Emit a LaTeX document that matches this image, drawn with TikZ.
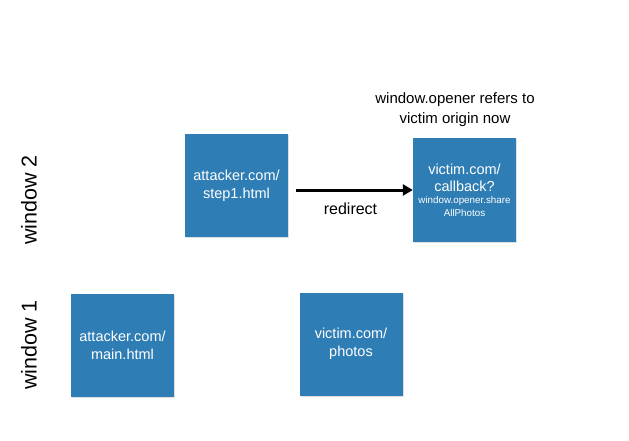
\documentclass[tikz,border=0pt]{standalone}
\usepackage{fontspec}
\setmainfont{Liberation Sans}
\usepackage{tikz}
\usetikzlibrary{arrows.meta,shadows}

\begin{document}
\begin{tikzpicture}[x=1pt,y=-1pt]
    \definecolor{pageblue}{RGB}{46,125,180}
    \useasboundingbox (0,0) rectangle (629,441);

    \tikzstyle{page}=[rectangle,fill=pageblue,text=white,minimum size=103pt,inner sep=0pt,
        align=center,font=\fontsize{14.5}{18}\selectfont,
        drop shadow={opacity=0.25,shadow xshift=1pt,shadow yshift=-1pt}]  % 页面方块
    \tikzstyle{win}=[rotate=90,font=\fontsize{21.5}{24}\selectfont]  % 窗口标签
    \newcommand{\smalljs}{\fontsize{9.8}{12}\selectfont}

    % 窗口标签
    \node[win](w2) at (29,200){window 2};
    \node[win](w1) at (29,345){window 1};

    % 页面
    \node[page](main) at (122.5,345.5){attacker.com/\\main.html};
    \node[page](photos) at (351,344){victim.com/\\photos};
    \node[page](step1) at (236.5,185.5){attacker.com/\\step1.html};
    \node[page](callback) at (464.5,190){\raisebox{-3pt}{\parbox{100pt}{\centering victim.com/\\[-1pt]callback?\\[-6pt]{\smalljs window.opener.share}\\[-5pt]{\smalljs AllPhotos}}}};

    % 注释
    \node[align=center,font=\fontsize{15}{20}\selectfont](note) at (455,110){window.opener refers to\\victim origin now};

    % 连线
    \draw[-{Triangle[length=10pt,width=11pt]},line width=3pt,shorten <=8pt]
        (step1.east |- callback.west) -- node[below=8pt,font=\fontsize{16}{18}\selectfont]{redirect} (callback.west);
\end{tikzpicture}
\end{document}
